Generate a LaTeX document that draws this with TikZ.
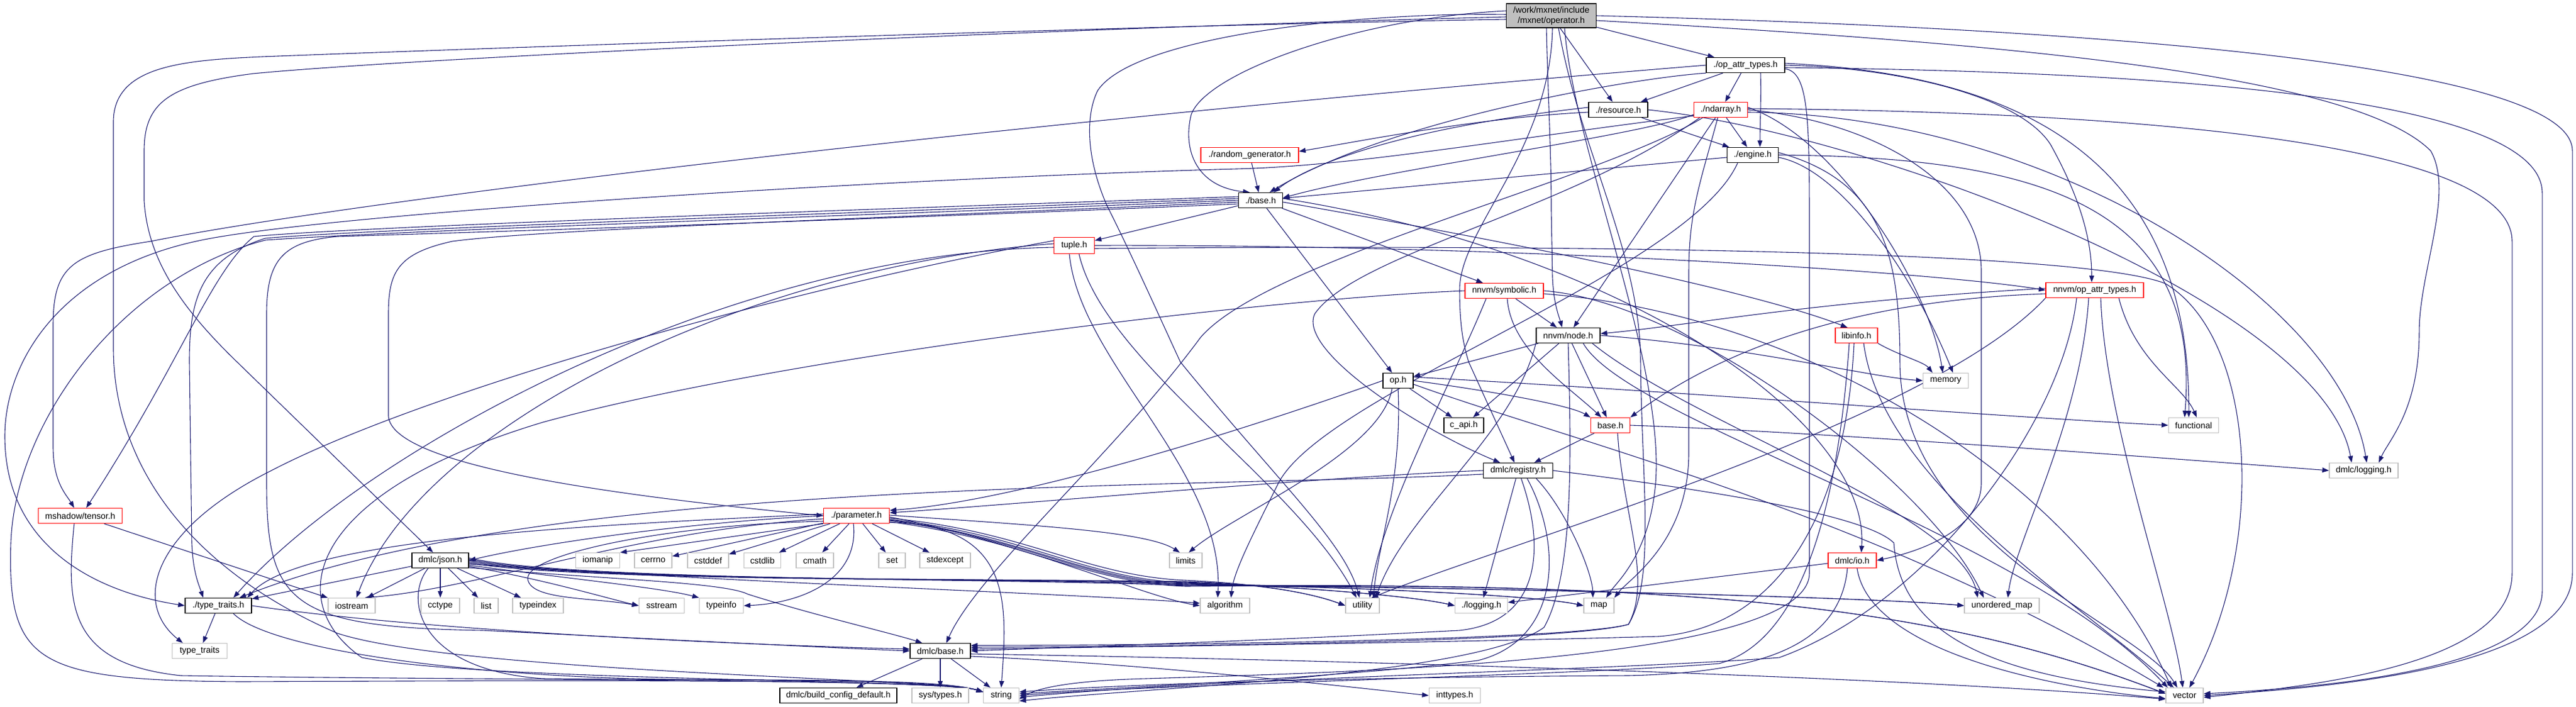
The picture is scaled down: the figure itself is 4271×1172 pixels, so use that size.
\documentclass[tikz,border=0pt]{standalone}
\usepackage{fontspec}
\setmainfont{Liberation Sans}
\usetikzlibrary{arrows.meta}
\definecolor{eb}{RGB}{25,25,112}
\definecolor{gb}{RGB}{191,191,191}
\definecolor{rb}{RGB}{255,0,0}
\pgfdeclarelayer{back}
\pgfdeclarelayer{bg}
\pgfsetlayers{back,bg,main}
\begin{document}
\begin{tikzpicture}[x=1pt,y=-1pt,
  nb/.style={draw=black,fill=white,line width=1.3pt,minimum height=25pt,inner sep=0pt,font=\fontsize{14.3}{17}\selectfont},
  ng/.style={nb,draw=gb},
  nr/.style={nb,draw=rb},
  edg/.style={draw=eb,line width=1.1pt,-{Triangle[length=11pt,width=8pt]}}]
\useasboundingbox (0,0) rectangle (4271,1172);
\begin{pgfonlayer}{back}
\fill[white] (0,0) rectangle (4271,1172);
\end{pgfonlayer}
% nodes
\node[nb,fill=gb,minimum width=149pt,minimum height=40pt,align=center] (O) at (2572,26) {/work/mxnet/include\\/mxnet/operator.h};
\node[nb,minimum width=130pt] (opattr) at (2894,108) {./op\_attr\_types.h};
\node[nb,minimum width=98pt] (resource) at (2683,182) {./resource.h};
\node[nr,minimum width=89pt] (ndarray) at (2853,182) {./ndarray.h};
\node[nr,minimum width=162pt] (randgen) at (2072,257) {./random\_generator.h};
\node[nb,minimum width=85pt] (engine) at (2906,257) {./engine.h};
\node[nb,minimum width=73pt] (base) at (2090,332) {./base.h};
\node[nr,minimum width=67pt,minimum height=27pt] (tuple) at (1781,407) {tuple.h};
\node[nr,minimum width=130pt] (symbolic) at (2494,482) {nnvm/symbolic.h};
\node[nr,minimum width=162pt] (nnvmop) at (3473,481) {nnvm/op\_attr\_types.h};
\node[nb,minimum width=106pt] (nnode) at (2600,556) {nnvm/node.h};
\node[nr,minimum width=70pt] (libinfo) at (3078,556) {libinfo.h};
\node[ng,minimum width=75pt] (memory) at (3226,631) {memory};
\node[nb,minimum width=50pt] (oph) at (2318,631) {op.h};
\node[nb,minimum width=66pt] (capi) at (2427,705) {c\_api.h};
\node[nr,minimum width=65pt] (nbase) at (2670,705) {base.h};
\node[ng,minimum width=83pt] (functional) at (3637,705) {functional};
\node[nb,minimum width=115pt] (registry) at (2517,780) {dmlc/registry.h};
\node[ng,minimum width=114pt] (dlogging) at (3919,780) {dmlc/logging.h};
\node[nr,minimum width=139pt] (mshadow) at (133,855) {mshadow/tensor.h};
\node[nr,minimum width=109pt] (param) at (1420,855) {./parameter.h};
\node[nb,minimum width=94pt] (json) at (730,929) {dmlc/json.h};
\node[ng,minimum width=73pt] (iomanip) at (991,929) {iomanip};
\node[ng,minimum width=62pt] (cerrno) at (1083,929) {cerrno};
\node[ng,minimum width=68pt] (cstddef) at (1174,929) {cstddef};
\node[ng,minimum width=61pt] (cstdlib) at (1264,929) {cstdlib};
\node[ng,minimum width=62pt] (cmath) at (1351,929) {cmath};
\node[ng,minimum width=44pt] (set) at (1479,929) {set};
\node[ng,minimum width=84pt] (stdexcept) at (1567,929) {stdexcept};
\node[ng,minimum width=54pt] (limits) at (1966,929) {limits};
\node[nr,minimum width=80pt] (dmlcio) at (3071,929) {dmlc/io.h};
\node[nb,minimum width=110pt] (ttraitsh) at (362,1004) {./type\_traits.h};
\node[ng,minimum width=78pt] (iostream) at (583,1004) {iostream};
\node[ng,minimum width=64pt] (cctype) at (730,1004) {cctype};
\node[ng,minimum width=40pt] (list) at (806,1004) {list};
\node[ng,minimum width=84pt] (typeindex) at (892,1004) {typeindex};
\node[ng,minimum width=75pt] (sstream) at (1097,1004) {sstream};
\node[ng,minimum width=73pt] (typeinfo) at (1196,1004) {typeinfo};
\node[ng,minimum width=82pt] (algorithm) at (2031,1004) {algorithm};
\node[ng,minimum width=56pt] (utility) at (2259,1004) {utility};
\node[ng,minimum width=87pt] (logging) at (2456,1004) {./logging.h};
\node[ng,minimum width=50pt] (map) at (2651,1004) {map};
\node[ng,minimum width=124pt] (umap) at (3319,1004) {unordered\_map};
\node[ng,minimum width=91pt] (ttraits) at (331,1079) {type\_traits};
\node[nb,minimum width=100pt] (dbase) at (1559,1079) {dmlc/base.h};
\node[nb,minimum width=194pt] (buildcfg) at (1390,1153) {dmlc/build\_config\_default.h};
\node[ng,minimum width=94pt] (systypes) at (1559,1153) {sys/types.h};
\node[ng,minimum width=59pt] (string) at (1660,1153) {string};
\node[ng,minimum width=85pt] (inttypes) at (2412,1153) {inttypes.h};
\node[ng,minimum width=62pt] (vector) at (3622,1153) {vector};
\begin{pgfonlayer}{bg}
% operator.h
\draw[edg] (O) -- (opattr);
\draw[edg] (O) -- (resource);
\draw[edg] ([xshift=-8]O.south) .. controls (2566,150) and (2572,250) .. (2572,350) -- (2574,460) .. controls (2576,505) and (2585,525) .. ([xshift=-10]nnode.north);
\draw[edg] ([xshift=2]O.south) .. controls (2570,250) and (2420,380) .. (2420,480) .. controls (2420,540) and (2426,570) .. (2435,600) -- ([xshift=-6]registry.north);
\draw[edg] ([xshift=12]O.south) .. controls (2620,250) and (2720,420) .. (2720,600) .. controls (2722,800) and (2745,960) .. (2700,1035) .. controls (2600,1062) and (1900,1070) .. ([yshift=9]dbase.east);
\draw[edg] ([xshift=22]O.south) .. controls (2610,250) and (2760,600) .. (2745,800) .. controls (2735,920) and (2680,965) .. ([xshift=12]map.north);
\draw[edg] ([yshift=-6]O.west) .. controls (1900,42) and (800,80) .. (435,94) .. controls (300,100) and (190,110) .. (188,200) -- (188,580) .. controls (190,800) and (350,960) .. (560,1050) .. controls (760,1115) and (1560,1125) .. ([yshift=6]string.west);
\draw[edg] ([yshift=-2]O.west) .. controls (1800,45) and (700,95) .. (420,122) .. controls (280,140) and (239,170) .. (239,250) -- (239,333) .. controls (245,430) and (300,510) .. (393,600) -- ([xshift=-12]json.north);
\draw[edg] ([yshift=2]O.west) .. controls (2250,20) and (1880,60) .. (1820,150) .. controls (1800,190) and (1800,260) .. (1835,340) .. controls (1880,430) and (1920,520) .. (1957,600) .. controls (2120,800) and (2230,900) .. ([xshift=-5]utility.north);
\draw[edg] ([yshift=8]O.west) .. controls (2250,30) and (2000,120) .. (1975,190) .. controls (1960,250) and (1985,310) .. ([xshift=-18]base.north);
\draw[edg] (O.east) .. controls (3400,45) and (4265,100) .. (4265,250) -- (4265,950) .. controls (4265,1110) and (3850,1140) .. (vector.east);
\draw[edg] ([yshift=-8]O.east) .. controls (3300,70) and (3900,120) .. (4030,250) .. controls (4070,320) and (4011,450) .. (4011,550) .. controls (4011,680) and (3960,730) .. ([xshift=25]dlogging.north);
% op_attr_types.h
\draw[edg] (opattr.west) .. controls (1700,200) and (600,330) .. (250,400) .. controls (120,420) and (88,440) .. (88,540) -- (88,740) .. controls (88,800) and (110,820) .. ([xshift=-10]mshadow.north);
\draw[edg] (opattr.east) .. controls (3150,112) and (3350,160) .. (3400,240) .. controls (3450,330) and (3468,400) .. ([xshift=-5]nnvmop.north);
\draw[edg] ([yshift=-4]opattr.east) .. controls (3500,118) and (4215,150) .. (4215,320) -- (4215,980) .. controls (4215,1110) and (3850,1140) .. ([yshift=3]vector.east);
\draw[edg] ([yshift=3]opattr.east) .. controls (3400,125) and (3630,300) .. ([xshift=-8]functional.north);
\draw[edg] ([yshift=-6]opattr.east) .. controls (3000,120) and (3000,200) .. (3000,400) -- (3000,950) .. controls (3000,1100) and (2200,1115) .. (1900,1125) .. controls (1780,1128) and (1720,1140) .. ([yshift=-6]string.east);
\draw[edg] (opattr.south west) .. controls (2700,130) and (2300,200) .. ([xshift=15]base.north);
\draw[edg] (opattr) -- (ndarray);
\draw[edg] ([xshift=25]opattr.south) .. controls (2920,170) and (2918,210) .. ([xshift=12]engine.north);
\draw[edg] (opattr) -- (resource);
% resource.h
\draw[edg] ([yshift=-4]resource.west) .. controls (2450,195) and (2250,235) .. ([yshift=6]randgen.east);
\draw[edg] ([yshift=4]resource.west) .. controls (2300,215) and (2160,280) .. ([xshift=22]base.north);
\draw[edg] (resource) -- (engine);
\draw[edg] (resource.east) .. controls (3100,220) and (3850,500) .. ([xshift=-20]dlogging.north);
% ndarray.h
\draw[edg] (ndarray) -- (engine);
\draw[edg] ([yshift=-8]ndarray.west) .. controls (2720,225) and (2300,280) .. ([yshift=4]base.east);
\draw[edg] ([yshift=-10]ndarray.west) .. controls (2500,230) and (2250,275) .. (2050,280) .. controls (1500,295) and (600,350) .. (350,395) .. controls (100,440) and (8,600) .. (8,723) .. controls (8,900) and (150,980) .. (ttraitsh.west);
\draw[edg] ([xshift=-30]ndarray.south) .. controls (2650,300) and (2100,430) .. (1990,560) .. controls (1850,750) and (1620,950) .. ([xshift=10]dbase.north);
\draw[edg] (ndarray) -- (nnode);
\draw[edg] ([xshift=-35]ndarray.south) .. controls (2600,350) and (2250,420) .. (2180,520) .. controls (2150,580) and (2350,710) .. ([xshift=-30]registry.north);
\draw[edg] (ndarray.east) .. controls (3100,200) and (3285,300) .. (3285,450) -- (3285,800) .. controls (3285,880) and (3180,915) .. (dmlcio.east);
\draw[edg] ([yshift=4]ndarray.east) .. controls (3050,230) and (3200,480) .. ([xshift=-5]memory.north);
\draw[edg] ([yshift=-4]ndarray.east) .. controls (3400,190) and (3880,500) .. ([xshift=5]dlogging.north);
\draw[edg] ([xshift=-5]ndarray.south) .. controls (2820,300) and (2800,350) .. (2800,450) -- (2800,750) .. controls (2800,900) and (2700,960) .. (map.north east);
\draw[edg] ([yshift=2]ndarray.east) .. controls (3500,185) and (4165,230) .. (4165,400) -- (4165,950) .. controls (4165,1100) and (3850,1135) .. ([yshift=-3]vector.east);
% engine.h
\draw[edg] (engine) -- (base);
\draw[edg] ([xshift=-25]engine.south) .. controls (2800,450) and (2200,650) .. (2120,800) .. controls (2070,900) and (2045,950) .. ([xshift=10]algorithm.north);
\draw[edg] ([yshift=-4]engine.east) .. controls (3050,280) and (3170,450) .. ([xshift=12]memory.north);
\draw[edg] (engine.east) .. controls (3400,260) and (3650,350) .. ([xshift=-15]functional.north);
\draw[edg] ([yshift=4]engine.east) .. controls (3120,300) and (3150,420) .. (3150,600) .. controls (3150,900) and (3550,1040) .. ([xshift=-12]vector.north);
% random_generator.h
\draw[edg] (randgen) -- (base);
% base.h
\draw[edg] ([yshift=6]base.west) .. controls (1500,345) and (600,375) .. (421,392) .. controls (350,450) and (300,600) .. ([xshift=10]mshadow.north);
\draw[edg] ([yshift=3]base.west) .. controls (1500,350) and (600,380) .. (440,395) .. controls (330,430) and (314,500) .. (314,600) -- (318,900) .. controls (320,950) and (330,970) .. ([xshift=-25]ttraitsh.north);
\draw[edg] (base.west) .. controls (1500,355) and (700,380) .. (440,398) .. controls (200,460) and (25,700) .. (18,900) .. controls (12,1100) and (60,1128) .. (400,1130) .. controls (900,1128) and (1560,1125) .. ([yshift=6]string.west);
\draw[edg] ([yshift=-3]base.west) .. controls (1500,360) and (900,380) .. (750,400) .. controls (660,420) and (644,450) .. (644,520) -- (644,690) .. controls (650,770) and (1000,820) .. (param.west);
\draw[edg] ([yshift=-6]base.west) .. controls (1500,362) and (800,385) .. (560,392) .. controls (470,400) and (442,430) .. (442,520) -- (442,800) .. controls (442,1000) and (480,1040) .. (800,1045) .. controls (1100,1060) and (1400,1075) .. (dbase.west);
\draw[edg] (base) -- (tuple);
\draw[edg] (base) -- (symbolic);
\draw[edg] ([yshift=-3]base.east) .. controls (2500,400) and (2900,480) .. ([xshift=-15]libinfo.north);
\draw[edg] (base) -- (oph);
\draw[edg] ([yshift=3]base.east) .. controls (2700,420) and (3100,700) .. ([xshift=15]dmlcio.north);
% tuple.h
\draw[edg] ([yshift=-3]tuple.west) .. controls (1200,420) and (600,750) .. ([xshift=25]ttraitsh.north);
\draw[edg] ([yshift=3]tuple.west) .. controls (1250,440) and (700,700) .. ([xshift=8]iostream.north);
\draw[edg] ([yshift=8]tuple.west) .. controls (1300,480) and (700,650) .. (450,780) .. controls (250,880) and (220,1000) .. ([xshift=-28]ttraits.north);
\draw[edg] ([xshift=-8]tuple.south) .. controls (1790,600) and (2030,780) .. ([xshift=-12]algorithm.north);
\draw[edg] ([xshift=8]tuple.south) .. controls (1830,600) and (2150,800) .. ([xshift=-10]utility.north);
\draw[edg] (tuple.east) .. controls (2500,405) and (3200,450) .. (nnvmop.west);
\draw[edg] ([yshift=-5]tuple.east) .. controls (2600,405) and (3450,415) .. (3590,470) .. controls (3740,560) and (3760,900) .. ([xshift=8]vector.north);
% nnvm/symbolic.h
\draw[edg] (symbolic) -- (nnode);
\draw[edg] (symbolic.west) .. controls (2100,495) and (1300,590) .. (900,700) .. controls (500,820) and (470,1000) .. (600,1090) .. controls (800,1130) and (1560,1125) .. ([yshift=6]string.west);
\draw[edg] ([xshift=-30]symbolic.south) .. controls (2400,650) and (2290,850) .. ([xshift=12]utility.north);
\draw[edg] ([xshift=5]symbolic.south) .. controls (2505,580) and (2600,640) .. ([xshift=-15]nbase.north);
\draw[edg] (symbolic.east) .. controls (2800,500) and (3200,800) .. ([xshift=-30]umap.north);
\draw[edg] ([yshift=-5]symbolic.east) .. controls (3000,520) and (3450,800) .. ([xshift=-22]vector.north);
% nnvm/op_attr_types.h
\draw[edg] ([yshift=3]nnvmop.west) .. controls (3000,500) and (2800,540) .. ([yshift=3]nnode.east);
\draw[edg] ([yshift=-6]nnvmop.west) .. controls (3000,500) and (2800,620) .. (nbase.north east);
\draw[edg] ([xshift=10]nnvmop.south) .. controls (3490,700) and (3600,1000) .. ([xshift=-3]vector.north);
\draw[edg] ([xshift=-30]nnvmop.south) .. controls (3420,700) and (3200,1000) .. (2950,1090) .. controls (2700,1110) and (2000,1125) .. ([yshift=-3]string.east);
\draw[edg] (nnvmop.south west) .. controls (3200,700) and (2500,900) .. ([xshift=15]utility.north);
\draw[edg] ([xshift=40]nnvmop.south) .. controls (3540,600) and (3620,640) .. ([xshift=5]functional.north);
\draw[edg] ([xshift=-10]nnvmop.south) .. controls (3450,700) and (3340,900) .. ([xshift=10]umap.north);
% nnvm/node.h
\draw[edg] (nnode.east) .. controls (2900,575) and (3100,625) .. (memory.west);
\draw[edg] (nnode) -- (oph);
\draw[edg] (nnode) -- (capi);
\draw[edg] (nnode) -- (nbase);
\draw[edg] (nnode.south west) .. controls (2510,720) and (2330,850) .. ([xshift=22]utility.north);
\draw[edg] (nnode.south) .. controls (2605,750) and (2610,950) .. (2560,1040) .. controls (2450,1120) and (1900,1140) .. ([yshift=-9]string.east);
\draw[edg] ([xshift=25]nnode.south) .. controls (2700,700) and (3350,880) .. ([xshift=-28]vector.north);
\draw[edg] ([xshift=40]nnode.south) .. controls (2800,700) and (3250,850) .. ([xshift=-40]umap.north);
% op.h
\draw[edg] (oph) -- (capi);
\draw[edg] (oph.east) .. controls (2450,645) and (2600,670) .. (nbase.north west);
\draw[edg] (oph.west) .. controls (2100,700) and (1700,830) .. ([yshift=9]param.east);
\draw[edg] ([xshift=-10]oph.south) .. controls (2290,750) and (2050,850) .. ([xshift=5]limits.north);
\draw[edg] (oph.south) .. controls (2325,800) and (2285,900) .. ([xshift=18]utility.north);
\draw[edg] ([yshift=6]oph.east) .. controls (2800,650) and (3300,690) .. (functional.west);
\draw[edg] ([yshift=-6]oph.east) .. controls (2600,730) and (3100,850) .. ([xshift=-35]vector.north);
% nnvm base.h
\draw[edg] (nbase) -- (registry);
\draw[edg] (nbase.east) .. controls (3000,715) and (3600,760) .. (dlogging.west);
\draw[edg] ([xshift=12]nbase.south) .. controls (2690,850) and (2740,960) .. (2700,1035) .. controls (2600,1065) and (1900,1072) .. ([yshift=6]dbase.east);
% dmlc/registry.h
\draw[edg] (registry.west) .. controls (2200,790) and (1700,835) .. ([yshift=5]param.east);
\draw[edg] ([yshift=-6]registry.west) .. controls (2000,810) and (900,790) .. ([xshift=35]ttraitsh.north);
\draw[edg] (registry) -- (logging);
\draw[edg] ([xshift=5]registry.south) .. controls (2560,900) and (2560,1030) .. (2420,1045) .. controls (2100,1062) and (1800,1072) .. (dbase.east);
\draw[edg] ([xshift=15]registry.south) .. controls (2590,900) and (2590,1060) .. (2450,1095) .. controls (2200,1125) and (1850,1140) .. ([yshift=3]string.east);
\draw[edg] ([xshift=30]registry.south) .. controls (2600,850) and (2640,950) .. ([xshift=-10]map.north);
\draw[edg] (registry.east) .. controls (2900,820) and (3100,860) .. (3140,900) .. controls (3150,1050) and (3300,1120) .. ([yshift=6]vector.west);
% libinfo.h
\draw[edg] (libinfo.south east) .. controls (3150,590) and (3190,600) .. ([xshift=-22]memory.north);
\draw[edg] ([xshift=-12]libinfo.south) .. controls (3050,800) and (3000,1060) .. (2850,1100) .. controls (2600,1120) and (1900,1135) .. (string.east);
\draw[edg] ([xshift=-4]libinfo.south) .. controls (3060,850) and (2950,1040) .. (2750,1055) .. controls (2400,1065) and (1900,1072) .. ([yshift=3]dbase.east);
\draw[edg] ([xshift=12]libinfo.south) .. controls (3120,800) and (3450,1000) .. ([xshift=-18]vector.north);
% dmlc/io.h
\draw[edg] (dmlcio) -- (logging);
\draw[edg] ([xshift=-8]dmlcio.south) .. controls (3050,1080) and (2900,1115) .. (2700,1120) .. controls (2300,1122) and (1900,1132) .. ([yshift=6]string.east);
\draw[edg] ([xshift=8]dmlcio.south) .. controls (3100,1080) and (3400,1140) .. ([yshift=-5]vector.west);
% parameter.h
\draw[edg] (param.west) .. controls (1150,865) and (900,900) .. (json.east);
\draw[edg] (param.south west) -- (iomanip.north east);
\draw[edg] (param) -- (cerrno);
\draw[edg] (param) -- (cstddef);
\draw[edg] (param) -- (cstdlib);
\draw[edg] (param) -- (cmath);
\draw[edg] (param) -- (set);
\draw[edg] (param) -- (stdexcept);
\draw[edg] ([xshift=-5]param.south) .. controls (1425,960) and (1330,1000) .. (typeinfo.east);
\draw[edg] ([yshift=3]param.west) .. controls (1000,870) and (500,890) .. ([xshift=48]ttraitsh.north);
\draw[edg] ([yshift=-5]param.west) .. controls (1050,880) and (800,975) .. ([xshift=22]iostream.north);
\draw[edg] ([yshift=-9]param.west) .. controls (1100,870) and (870,920) .. (875,960) .. controls (880,995) and (980,990) .. (sstream.west);
\draw[edg] ([yshift=1]param.east) .. controls (1700,870) and (1900,880) .. ([xshift=-10]limits.north);
\draw[edg] ([yshift=-2]param.east) .. controls (1700,900) and (1900,990) .. (algorithm.west);
\draw[edg] ([yshift=-4]param.east) .. controls (1700,880) and (1800,955) .. (1966,962) .. controls (2100,968) and (2180,985) .. (utility.west);
\draw[edg] ([yshift=-6]param.east) .. controls (1700,885) and (1800,960) .. (1966,966) .. controls (2200,975) and (2350,990) .. (logging.west);
\draw[edg] ([yshift=-7]param.east) .. controls (1700,890) and (1800,962) .. (1966,968) .. controls (2300,975) and (2550,988) .. (map.west);
\draw[edg] ([yshift=-8]param.east) .. controls (1700,892) and (1800,964) .. (1966,970) .. controls (2500,975) and (3100,990) .. (umap.west);
\draw[edg] ([yshift=-10]param.east) .. controls (1700,895) and (1800,966) .. (1966,972) .. controls (2800,965) and (3200,1000) .. ([yshift=3]vector.west);
\draw[edg] ([yshift=-11]param.east) .. controls (1680,870) and (1670,1000) .. (string.north);
% dmlc/json.h
\draw[edg] (json) -- (ttraitsh);
\draw[edg] (json) -- (iostream);
\draw[edg] (json) -- (cctype);
\draw[edg] (json) -- (list);
\draw[edg] (json) -- (typeindex);
\draw[edg] ([xshift=-20]json.south) .. controls (670,990) and (690,1110) .. (900,1125) .. controls (1200,1128) and (1560,1125) .. ([yshift=6]string.west);
\draw[edg] ([yshift=-10]json.east) .. controls (900,960) and (1000,990) .. (sstream.west);
\draw[edg] ([yshift=-8]json.east) .. controls (950,960) and (1100,975) .. (typeinfo.north west);
\draw[edg] ([yshift=-12]json.east) .. controls (1000,960) and (1200,965) .. (1240,985) .. controls (1350,1020) and (1480,1050) .. ([xshift=-30]dbase.north);
\draw[edg] ([yshift=-6]json.east) .. controls (1200,965) and (1800,985) .. ([yshift=4]algorithm.west);
\draw[edg] ([yshift=-4]json.east) .. controls (950,965) and (1700,960) .. (1966,964) .. controls (2100,968) and (2180,985) .. (utility.west);
\draw[edg] ([yshift=-2]json.east) .. controls (950,965) and (1700,958) .. (1966,965) .. controls (2200,975) and (2350,990) .. (logging.west);
\draw[edg] (json.east) .. controls (950,965) and (1700,958) .. (1966,967) .. controls (2300,975) and (2550,988) .. (map.west);
\draw[edg] ([yshift=2]json.east) .. controls (950,965) and (1700,958) .. (1966,969) .. controls (2500,975) and (3100,990) .. (umap.west);
\draw[edg] ([yshift=4]json.east) .. controls (950,965) and (1700,958) .. (1966,971) .. controls (2800,965) and (3200,1000) .. ([yshift=3]vector.west);
% ./type_traits.h
\draw[edg] (ttraitsh) -- (ttraits);
\draw[edg] ([xshift=25]ttraitsh.south) .. controls (450,1080) and (800,1122) .. (1100,1126) .. controls (1300,1128) and (1560,1125) .. ([yshift=6]string.west);
\draw[edg] (ttraitsh.east) .. controls (700,1045) and (1200,1068) .. ([yshift=3]dbase.west);
% mshadow/tensor.h
\draw[edg] (mshadow) -- (iostream);
\draw[edg] ([xshift=-10]mshadow.south) .. controls (110,1000) and (110,1100) .. (300,1120) .. controls (800,1128) and (1560,1125) .. ([yshift=6]string.west);
% dmlc/base.h
\draw[edg] (dbase) -- (buildcfg);
\draw[edg] (dbase) -- (systypes);
\draw[edg] (dbase) -- (string);
\draw[edg] ([yshift=-9]dbase.east) .. controls (1900,1100) and (2250,1140) .. (inttypes.west);
\draw[edg] ([yshift=-5]dbase.east) .. controls (2300,1095) and (3200,1125) .. ([yshift=-6]vector.west);
\end{pgfonlayer}
\end{tikzpicture}
\end{document}
